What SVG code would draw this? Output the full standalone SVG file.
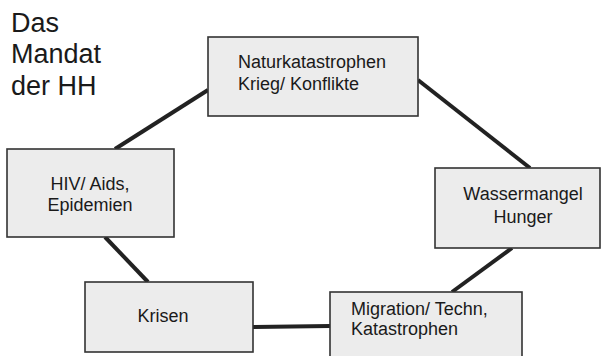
<svg xmlns="http://www.w3.org/2000/svg" width="605" height="356" viewBox="0 0 605 356">
<style>
.box{fill:#ececec;stroke:#333;stroke-width:1.6}
.t{font-family:"Liberation Sans",Arial,sans-serif;font-size:18px;fill:#1a1a1a}
.c{text-anchor:middle}
.title{font-family:"Liberation Sans",Arial,sans-serif;font-size:27px;fill:#1a1a1a}
.con line{stroke:#222;stroke-width:4}
</style>
<rect width="605" height="356" fill="#fff"/>
<g id="title"><text class="title" x="11" y="32">Das</text><text class="title" x="11" y="63">Mandat</text><text class="title" x="11" y="95">der HH</text></g>
<g class="con" id="connectors">
<line x1="208" y1="90" x2="115" y2="149"/>
<line x1="418" y1="80" x2="530" y2="168"/>
<line x1="512" y1="248" x2="452" y2="292"/>
<line x1="253" y1="327" x2="330" y2="326"/>
<line x1="105" y1="237" x2="148" y2="282"/>
</g>
<g id="n1"><rect class="box" x="208" y="37" width="210" height="79"/><text class="t" x="238" y="68">Naturkatastrophen</text><text class="t" x="238" y="90">Krieg/ Konflikte</text></g>
<g id="n2"><rect class="box" x="435" y="168" width="165" height="80"/><text class="t c" x="523" y="200">Wassermangel</text><text class="t c" x="523" y="223">Hunger</text></g>
<g id="n3"><rect class="box" x="330" y="292" width="192" height="70"/><text class="t" x="351" y="315">Migration/ Techn,</text><text class="t" x="351" y="335">Katastrophen</text></g>
<g id="n4"><rect class="box" x="85" y="282" width="168" height="70"/><text class="t c" x="163" y="322">Krisen</text></g>
<g id="n5"><rect class="box" x="7" y="149" width="167" height="88"/><text class="t c" x="90" y="190">HIV/ Aids,</text><text class="t c" x="90" y="211">Epidemien</text></g>
</svg>
